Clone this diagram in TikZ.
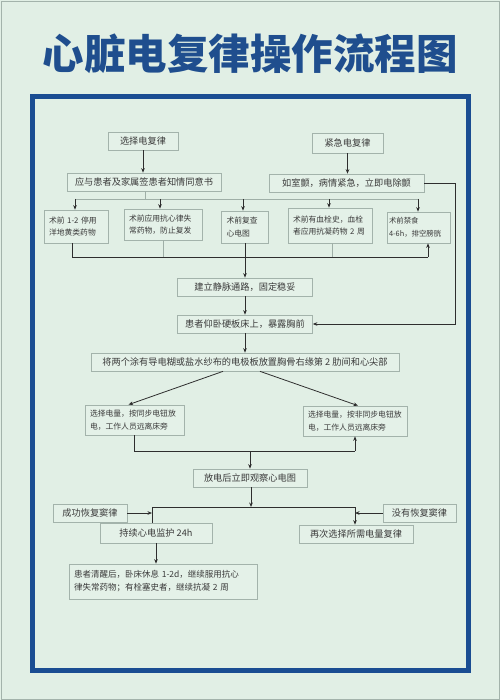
\documentclass[tikz,border=0pt]{standalone}
\usepackage{fontspec}
\newfontfamily\cjk{Noto Sans CJK SC}
\usetikzlibrary{arrows.meta}
\definecolor{bgc}{HTML}{E1EFE5}
\definecolor{framec}{HTML}{1A4D92}
\definecolor{titlec}{HTML}{1F4E8E}
\definecolor{boxc}{HTML}{A3B3AB}
\definecolor{boxfill}{HTML}{E4F1E8}
\definecolor{txt}{HTML}{3A3A3A}
\definecolor{linec}{HTML}{2E2E2E}
\definecolor{faintc}{HTML}{9FAFA7}
\tikzset{
  box/.style={draw=boxc, fill=boxfill, line width=0.7pt, inner sep=0pt, text=txt,
    font=\cjk\fontsize{9.2}{11}\selectfont, minimum height=18pt},
  mbox/.style={box, inner xsep=5pt, align=left, font=\cjk\fontsize{7.8}{12.5}\selectfont},
  ln/.style={draw=linec, line width=0.8pt},
  arr/.style={ln, -{Stealth[length=4.5pt,width=3.6pt]}},
  faint/.style={draw=faintc, line width=0.6pt}
}
\begin{document}
\begin{tikzpicture}[x=1pt,y=-1pt]
\useasboundingbox (0,0) rectangle (500,700);
\fill[bgc] (0,0) rectangle (500,700);
\draw[draw=boxc, line width=0.8pt] (1,1) rectangle (499,699);
\draw[draw=framec, line width=5pt] (32,97) rectangle (468,670);

\node[font=\cjk\bfseries\fontsize{41.5}{42}\selectfont, text=titlec] (title) at (250,54) {心脏电复律操作流程图};

% top
\node[box, minimum width=70pt] (s1) at (143,141) {选择电复律};
\node[box, minimum width=154pt] (s2) at (144,182) {应与患者及家属签患者知情同意书};
\node[box, minimum width=71pt, minimum height=20pt] (e1) at (347.5,143) {紧急电复律};
\node[box, minimum width=155pt] (e2) at (346.5,183) {如室颤，病情紧急，立即电除颤};

\node[mbox, text width=54pt, minimum height=33pt] (b1) at (76,226.5) {术前 1-2 停用\\洋地黄类药物};
\node[mbox, text width=68pt, minimum height=31pt] (b2) at (163,224.5) {术前应用抗心律失\\常药物，防止复发};
\node[mbox, text width=37pt, minimum height=32pt] (b3) at (245,227) {术前复查\\心电图};
\node[mbox, text width=74pt, minimum height=35pt] (b4) at (330,225.5) {术前有血栓史，血栓\\者应用抗凝药物 2 周};
\node[mbox, text width=59pt, inner xsep=2pt, minimum height=31pt, font=\cjk\fontsize{7.4}{12.5}\selectfont] (b5) at (418.5,227.5) {术前禁食\\4-6h，排空膀胱};

\node[box, minimum width=135pt] (c1) at (245,287) {建立静脉通路，固定稳妥};
\node[box, minimum width=135pt] (c2) at (245,324) {患者仰卧硬板床上，暴露胸前};
\node[box, minimum width=308pt] (c3) at (245,362) {将两个涂有导电糊或盐水纱布的电极板放置胸骨右缘第 2 肋间和心尖部};

\node[mbox, text width=89pt, minimum height=30pt] (l1) at (134.5,420) {选择电量，按同步电钮放\\电，工作人员远离床旁};
\node[mbox, text width=94pt, minimum height=30pt] (r1) at (355,421) {选择电量，按非同步电钮放\\电，工作人员远离床旁};

\node[box, minimum width=114pt] (d1) at (250,478) {放电后立即观察心电图};
\node[box, minimum width=74pt] (ok) at (90,513) {成功恢复窦律};
\node[box, minimum width=73pt] (no) at (419.5,513) {没有恢复窦律};
\node[box, minimum width=112pt, minimum height=20pt] (m1) at (156,533) {持续心电监护 24h};
\node[box, minimum width=114pt] (m2) at (356,534) {再次选择所需电量复律};
\node[mbox, text width=178pt, minimum height=35pt, font=\cjk\fontsize{8.5}{13}\selectfont] (f) at (163,581.5) {患者清醒后，卧床休息 1-2d，继续服用抗心\\律失常药物；有栓塞史者，继续抗凝 2 周};

% connectors top
\draw[arr] (s1) -- (s1 |- s2.north);
\draw[arr] (e1) -- (e1 |- e2.north);
\coordinate (tb) at (145,199);
\coordinate (t1) at (75,199);
\coordinate (t2) at (160,199);
\coordinate (t3) at (243,199);
\coordinate (t4) at (329,199);
\coordinate (t5) at (418,199);
\draw[faint] (s2.south -| tb) -- (tb);
\draw[faint] (t1) -- (t5);
\foreach \i in {1,...,5} { \draw[arr] (t\i) -- (t\i |- b\i.north); }

% bottom bus of top boxes
\coordinate (u1) at (72,257);
\coordinate (u2) at (163,257);
\coordinate (u3) at (245,257);
\coordinate (u4) at (332,257);
\coordinate (u5) at (428,257);
\draw[ln] (b1.south -| u1) -- (u1) -- (u5);
\draw[arr] (u5) -- (u5 |- b5.south);
\draw[faint] (b2.south -| u2) -- (u2);
\draw[faint] (b4.south -| u4) -- (u4);
\draw[arr] (b3.south) -- (c1.north);
\draw[arr] (c1) -- (c2);
\draw[arr] (c2) -- (c3);

% right loop
\coordinate (rc) at (455,183);
\draw[arr] (e2.east) -- (rc) -- (rc |- c2.east) -- (c2.east);

% split
\draw[arr] ([xshift=-22pt]c3.south) -- ([xshift=-6pt]l1.north);
\draw[arr] ([xshift=15pt]c3.south) -- ([xshift=3pt]r1.north);

\coordinate (v) at (250,451);
\draw[ln] (l1.south) -- (l1.south |- v) -- (r1.south |- v);
\draw[arr] (r1.south |- v) -- (r1.south);
\draw[arr] (d1.north |- v) -- (d1.north);

% result
\coordinate (w) at (251,507);
\coordinate (wl) at (152,507);
\coordinate (wr) at (355,507);
\draw[arr] (d1.south -| w) -- (w);
\draw[ln] (wl) -- (wr);
\draw[arr] (ok.east) -- (ok.east -| wl);
\draw[arr] (no.west) -- (no.west -| wr);
\draw[ln] (wl) -- (wl |- m1.north);
\draw[arr] (wr) -- (wr |- m2.north);
\draw[arr] (m1.south) -- (m1.south |- f.north);
\end{tikzpicture}
\end{document}
